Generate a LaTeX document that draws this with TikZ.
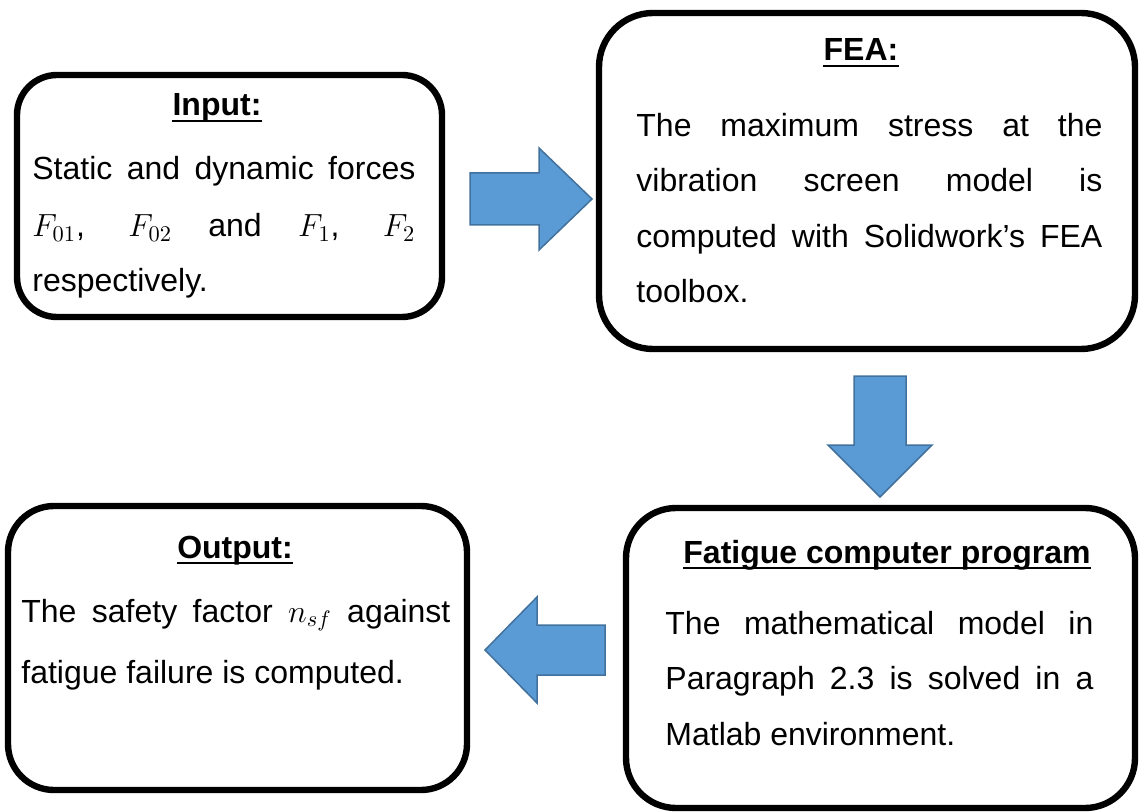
\RequirePackage{fix-cm}
\documentclass[tikz,border=0pt]{standalone}
\usepackage{fontspec}
\setmainfont{Liberation Sans}
\definecolor{arrowfill}{HTML}{5B9BD5}
\definecolor{arrowline}{HTML}{41719C}
\begin{document}
\begin{tikzpicture}[x=0.5pt,y=-0.5pt,
  box/.style={draw=black,line width=3.2pt,inner sep=0pt,outer sep=0pt},
  blockarrow/.style={fill=arrowfill,draw=arrowline,line width=0.75pt,line join=miter},
  title/.style={inner sep=0pt,anchor=base,font=\fontsize{16}{19}\selectfont\bfseries},
  bodyline/.style={inner sep=0pt,anchor=base west,font=\fontsize{16}{19}\selectfont},
  uline/.style={line width=1.3pt}]
\useasboundingbox (0,0) rectangle (1139,812);
% boxes
\node[box,rounded corners=20pt,minimum width=212.5pt,minimum height=121pt] (input) at (229.5,196) {};
\node[box,rounded corners=27pt,minimum width=268pt,minimum height=168pt] (fea) at (867,181) {};
\node[box,rounded corners=25pt,minimum width=254.5pt,minimum height=150pt] (fatigue) at (880.5,658) {};
\node[box,rounded corners=23pt,minimum width=229.5pt,minimum height=142pt] (output) at (237.5,648) {};
% block arrows
\draw[blockarrow] (470,173) -- (539,173) -- (539,148) -- (592,199) -- (539,250) -- (539,225) -- (470,225) -- cycle;
\draw[blockarrow] (854,376) -- (906,376) -- (906,445) -- (932,445) -- (880,497) -- (828,445) -- (854,445) -- cycle;
\draw[blockarrow] (605,625) -- (537,625) -- (537,597) -- (485,650) -- (537,703) -- (537,675) -- (605,675) -- cycle;
% titles
\node[title] (tin) at (217,116) {Input:};
\node[title] (tfea) at (861,61) {FEA:};
\node[title] (tfat) at (887,563) {Fatigue computer program};
\node[title] (tout) at (235,558) {Output:};
\foreach \t in {tin,tfea,tfat,tout}
  \draw[uline] ([yshift=-2.5pt]\t.base west) -- ([yshift=-2.5pt]\t.base east);
% input body
\node[bodyline] (in1) at (32,180) {\makebox[191.5pt][s]{Static and dynamic forces}};
\node[bodyline] (in2) at (32,237) {\makebox[191.5pt][s]{$F_{01}$, $F_{02}$ and $F_1$, $F_2$}};
\node[bodyline] (in3) at (32,292) {respectively.};
% FEA body
\node[bodyline] (fe1) at (636,137) {\makebox[233pt][s]{The maximum stress at the}};
\node[bodyline] (fe2) at (636,192) {\makebox[233pt][s]{vibration screen model is}};
\node[bodyline] (fe3) at (636,248) {\makebox[233pt][s]{computed with Solidwork’s FEA}};
\node[bodyline] (fe4) at (636,303) {toolbox.};
% fatigue body
\node[bodyline] (fa1) at (665,634) {\makebox[214pt][s]{The mathematical model in}};
\node[bodyline] (fa2) at (665,689) {\makebox[214pt][s]{Paragraph 2.3 is solved in a}};
\node[bodyline] (fa3) at (665,745) {Matlab environment.};
% output body
\node[bodyline] (ou1) at (21,622) {\makebox[214.5pt][s]{The safety factor $n_{sf}$ against}};
\node[bodyline] (ou2) at (21,683) {fatigue failure is computed.};
\end{tikzpicture}
\end{document}
